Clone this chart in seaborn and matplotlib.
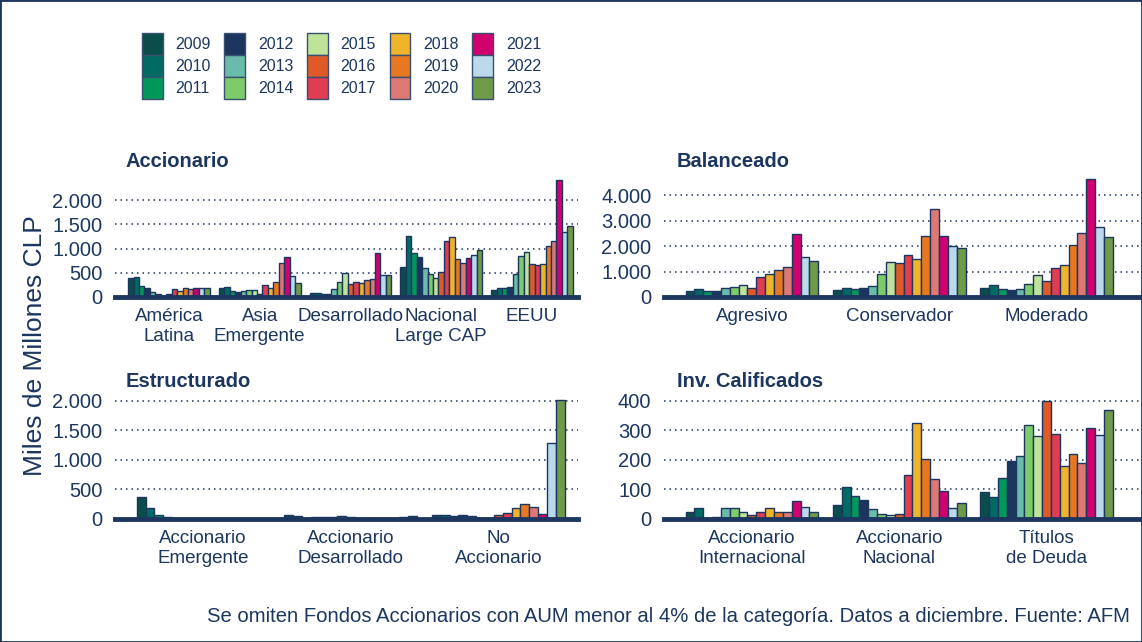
import pandas as pd
import matplotlib
matplotlib.use("Agg")
import matplotlib.pyplot as plt
import seaborn as sns
from matplotlib.patches import Patch, Rectangle
from matplotlib.ticker import FuncFormatter

# Data (Miles de Millones CLP, a diciembre de cada año)
years = [str(y) for y in range(2009, 2024)]
palette = ['#0b4d4b', '#006b63', '#00985a', '#1c355e', '#6bbbaa', '#7ecb6a', '#bfe39b',
           '#e05a28', '#e03c52', '#f0b42a', '#e87722', '#de7874', '#d2006f', '#bad9ea', '#6f9a48']

acc_cats = ['América\nLatina', 'Asia\nEmergente', 'Desarrollado', 'Nacional\nLarge CAP', 'EEUU']
acc_america_latina = [390, 415, 225, 185, 110, 70, 30, 60, 160, 130, 185, 165, 195, 195, 195]
acc_asia_emergente = [180, 200, 130, 110, 115, 140, 140, 70, 250, 190, 300, 710, 820, 440, 295]
acc_desarrollado = [90, 80, 70, 55, 175, 300, 505, 260, 300, 280, 350, 375, 900, 460, 445]
acc_nacional = [610, 1260, 905, 835, 595, 465, 385, 525, 1160, 1235, 795, 700, 815, 875, 975]
acc_eeuu = [150, 190, 190, 210, 470, 850, 935, 680, 660, 680, 1045, 1160, 2410, 1350, 1475]

bal_cats = ['Agresivo', 'Conservador', 'Moderado']
bal_agresivo = [225, 315, 250, 235, 355, 410, 460, 340, 800, 895, 1080, 1170, 2475, 1555, 1430]
bal_conservador = [275, 340, 315, 340, 435, 895, 1395, 1330, 1660, 1500, 2410, 3475, 2410, 2000, 1935]
bal_moderado = [370, 490, 330, 275, 315, 525, 880, 645, 1130, 1275, 2025, 2515, 4620, 2765, 2370]

est_cats = ['Accionario\nEmergente', 'Accionario\nDesarrollado', 'No\nAccionario']
est_emergente = [375, 180, 60, 35, 0, 0, 0, 0, 0, 0, 0, 0, 0, 0, 0]
est_desarrollado = [60, 45, 25, 35, 35, 30, 55, 35, 20, 10, 10, 10, 10, 30, 55]
est_no_accionario = [75, 65, 45, 60, 45, 10, 10, 70, 100, 185, 250, 205, 85, 1295, 2015]

ic_cats = ['Accionario\nInternacional', 'Accionario\nNacional', 'Títulos\nde Deuda']
ic_internacional = [23, 37, 0, 8, 37, 37, 23, 15, 23, 37, 25, 25, 60, 41, 23]
ic_nacional = [46, 107, 77, 63, 35, 17, 14, 17, 150, 325, 202, 137, 95, 37, 55]
ic_titulos = [90, 76, 140, 198, 215, 320, 280, 400, 288, 180, 220, 190, 308, 285, 368]

navy = '#1c3660'

sns.set_style("white")
plt.rcParams['font.family'] = ['Liberation Sans', 'DejaVu Sans']
plt.rcParams['text.color'] = navy


def _long_df(cats, series):
    rows = []
    for cat, vals in zip(cats, series):
        for yr, v in zip(years, vals):
            rows.append({'cat': cat, 'year': yr, 'val': v})
    return pd.DataFrame(rows)


def _fmt(v, pos):
    return f"{int(round(v)):,}".replace(",", ".")


def _panel(ax, title, cats, series, ymax, yticks, xlim, title_x):
    df = _long_df(cats, series)
    sns.barplot(data=df, x='cat', y='val', hue='year', order=cats, hue_order=years,
                palette=palette, saturation=1, width=0.9, edgecolor=navy, linewidth=1.0,
                legend=False, ax=ax)
    ax.set_xlim(*xlim)
    ax.set_ylim(0, ymax)
    ax.set_yticks(yticks)
    ax.yaxis.set_major_formatter(FuncFormatter(_fmt))
    ax.set_xlabel('')
    ax.set_ylabel('')
    for y in yticks[1:]:
        ax.axhline(y, color=navy, lw=1.1, ls=(0, (1, 2.6)), zorder=0)
    for s in ['top', 'right', 'left']:
        ax.spines[s].set_visible(False)
    ax.spines['bottom'].set_color(navy)
    ax.spines['bottom'].set_linewidth(3.5)
    ax.spines['bottom'].set_zorder(5)
    ax.tick_params(axis='y', length=0, pad=9, labelsize=14.5, labelcolor=navy)
    ax.tick_params(axis='x', direction='out', length=5, width=3.5, color=navy,
                   pad=3, labelsize=13.5, labelcolor=navy)
    ax.text(title_x, 1.135, title, transform=ax.transAxes, ha='left', va='center',
            fontsize=14.5, fontweight='bold', color=navy)


fig = plt.figure(figsize=(11.42, 6.42), dpi=100)
fig.patch.set_facecolor('white')

ax1 = fig.add_axes([0.1007, 0.5374, 0.4054, 0.1854])
ax2 = fig.add_axes([0.5814, 0.5374, 0.4168, 0.1854])
ax3 = fig.add_axes([0.1007, 0.1916, 0.4054, 0.1885])
ax4 = fig.add_axes([0.5814, 0.1916, 0.4168, 0.1885])

_panel(ax1, 'Accionario', acc_cats,
       [acc_america_latina, acc_asia_emergente, acc_desarrollado, acc_nacional, acc_eeuu],
       2460, [0, 500, 1000, 1500, 2000], (-0.595, 4.507), 0.022)
_panel(ax2, 'Balanceado', bal_cats, [bal_agresivo, bal_conservador, bal_moderado],
       4680, [0, 1000, 2000, 3000, 4000], (-0.597, 2.634), 0.027)
_panel(ax3, 'Estructurado', est_cats, [est_emergente, est_desarrollado, est_no_accionario],
       2050, [0, 500, 1000, 1500, 2000], (-0.597, 2.54), 0.022)
_panel(ax4, 'Inv. Calificados', ic_cats, [ic_internacional, ic_nacional, ic_titulos],
       410, [0, 100, 200, 300, 400], (-0.597, 2.634), 0.027)

handles = [Patch(facecolor=c, edgecolor='#3a5070', linewidth=1.0) for c in palette]
fig.legend(handles, years, ncol=5, loc='upper left', bbox_to_anchor=(142 / 1142, 1 - 33 / 642),
           frameon=False, fontsize=11.5, handlelength=1.3, handleheight=1.74,
           handletextpad=0.8, columnspacing=0.85, labelspacing=0.0,
           borderpad=0, borderaxespad=0, labelcolor=navy)

fig.text(35 / 1142, 1 - 346 / 642, 'Miles de Millones CLP', rotation=90,
         ha='center', va='center', fontsize=19, color=navy)
fig.text(1130 / 1142, 1 - 617 / 642,
         'Se omiten Fondos Accionarios con AUM menor al 4% de la categoría. Datos a diciembre. Fuente: AFM',
         ha='right', va='center', fontsize=14.6, color=navy)

fig.patches.append(Rectangle((0, 0), 1, 1, transform=fig.transFigure, fill=False,
                             edgecolor=navy, linewidth=2.0))

fig.savefig('out.png', dpi=100, facecolor='white')
